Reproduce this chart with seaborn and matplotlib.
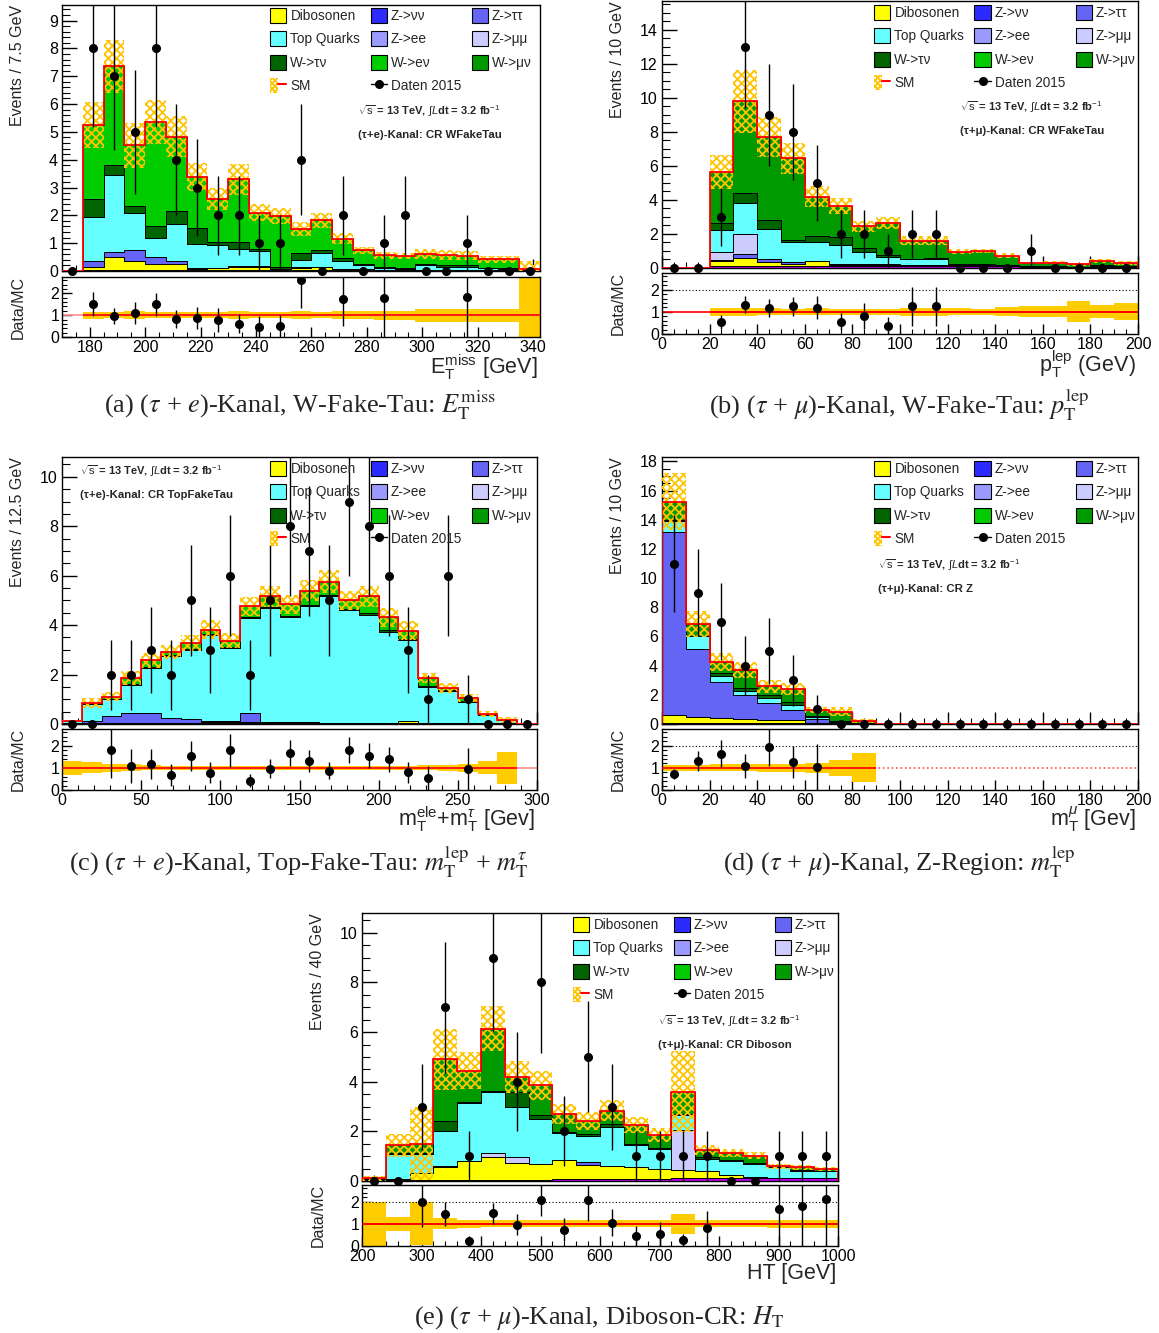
import numpy as np
import pandas as pd
import seaborn as sns
import matplotlib
matplotlib.use("Agg")
import matplotlib.pyplot as plt
from matplotlib.patches import Patch
from matplotlib.lines import Line2D
from matplotlib.legend_handler import HandlerTuple
from matplotlib.ticker import MultipleLocator, AutoMinorLocator

# ======================= DATA =======================
# (a) (tau+e) W-Fake-Tau, E_T^miss, bins of 7.5 GeV starting at 170 GeV
a_lo, a_bw = 170.0, 7.5
a_other = [0, .05, .05, .05, .05, .05, .05, .05, .05, .05, .05, .05, .05, .05, .05, .05, .05, .05, .05, .05, .05, .05, .03]
a_dib = [0, .10, .45, .30, .20, .20, .03, .05, .10, .10, .02, .05, .10, .03, .02, 0, 0, 0, 0, 0, 0, 0, 0]
a_ztt = [0, .20, .20, .40, .25, .10, .02, .02, .02, .02, 0, .05, 0, 0, 0, 0, 0, 0, 0, 0, 0, 0, 0]
a_top = [0, 1.60, 2.75, 1.35, .70, 1.33, .88, .83, .63, .55, 0, .25, .50, .27, .13, .05, .03, .15, .10, .10, .04, .03, 0]
a_wtn = [0, .65, .35, .25, .40, .47, .56, .10, .25, .08, .08, .25, .09, .10, .05, .05, .04, .06, .07, .05, .03, .02, 0]
a_wen = [0, 2.65, 3.55, 2.17, 3.75, 2.68, 1.85, 1.55, 2.24, 1.30, 1.82, .87, 1.08, .71, .49, .41, .43, .36, .36, .35, .30, .32, .03]
a_data = [0, 8, 7, 5, 8, 4, 3, 2, 2, 1, 1, 4, 0, 2, 0, 1, 2, 0, 0, 1, 0, 0, 0]
a_rel = [0, .16, .13, .18, .15, .15, .15, .15, .17, .15, .15, .17, .15, .17, .18, .20, .20, .30, .30, .30, .30, .30, 5.0]

# (b) (tau+mu) W-Fake-Tau, p_T^lep, bins of 10 GeV from 0
b_lo, b_bw = 0.0, 10.0
b_other = [0, 0, .10, .10, .10, .10, .10, .10, .10, .10, .10, .10, .10, .10, .10, .08, .08, .06, .08, .08]
b_dib = [0, 0, .30, .50, .25, .15, .30, .10, .10, .05, .05, .10, 0, 0, 0, 0, 0, 0, 0, 0]
b_ztt = [0, 0, .05, .20, .20, .10, 0, .05, .05, .10, .05, 0, 0, 0, 0, 0, 0, 0, 0, 0]
b_zmm = [0, 0, .50, 1.20, 0, 0, 0, 0, 0, 0, 0, 0, 0, 0, 0, 0, 0, 0, 0, 0]
b_top = [0, 0, 1.30, 1.85, 1.75, 1.15, 1.10, 1.12, .70, .40, .30, .35, .10, .05, .05, 0, .04, 0, .04, .02]
b_wtn = [0, 0, .40, .55, .55, .15, .40, .45, .20, .10, .05, .05, .05, .10, .05, .05, 0, 0, .05, 0]
b_wmn = [0, 0, 3.00, 5.40, 4.85, 4.80, 2.30, 1.83, 1.30, 1.90, 1.05, 1.00, .70, .75, .52, .17, .20, .16, .25, .20]
b_data = [0, 0, 3, 13, 9, 8, 5, 2, 2, 1, 2, 2, 0, 0, 0, 1, 0, 0, 0, 0]
b_rel = [0, 0, .18, .19, .15, .14, .15, .13, .13, .14, .17, .17, .15, .14, .20, .25, .25, .47, .30, .38]

# (c) (tau+e) Top-Fake-Tau, m_T^ele + m_T^tau, bins of 12.5 GeV from 0
c_lo, c_bw = 0.0, 12.5
c_other = [.03, .03, .03, .03, .03, .03, .03, .03, .03, .03, .03, .03, .03, .03, .03, .03, .03, .03, .03, .03, .03, .03, .03, 0]
c_dib = [0, 0, 0, 0, 0, .02, .02, .05, .05, .07, .03, .02, .02, .02, .02, .02, .02, .10, .02, .02, 0, 0, 0, 0]
c_ztt = [0, .10, .29, .40, .43, .21, .15, .05, .04, .36, .04, .05, .02, 0, 0, 0, 0, 0, 0, 0, 0, 0, 0, 0]
c_top = [.09, .68, .70, 1.15, 1.82, 2.50, 2.80, 3.47, 2.95, 3.82, 4.58, 4.22, 4.69, 5.11, 4.55, 4.34, 3.69, 3.27, 1.46, 1.30, .87, .32, .12, 0]
c_wtn = [0, 0, 0, .02, .02, .02, .02, .03, .03, .05, .05, .05, .06, .05, .05, .08, .07, .05, .04, .03, .03, 0, 0, 0]
c_wen = [0, .03, .08, .25, .27, .12, .25, .18, .26, .43, .43, .48, .58, .55, .35, .69, .50, .33, .30, .07, .12, .05, .01, 0]
c_data = [0, 0, 2, 2, 3, 2, 5, 3, 6, 2, 5, 8, 7, 5, 9, 8, 6, 3, 1, 6, 1, 0, 0, 0]
c_rel = [.32, .25, .17, .15, .12, .10, .10, .10, .09, .08, .08, .08, .08, .08, .08, .08, .09, .10, .11, .13, .17, .30, .72, 0]

# (d) (tau+mu) Z-Region, m_T^mu, bins of 10 GeV from 0
d_lo, d_bw = 0.0, 10.0
d_other = [.05, .05, .05, .05, .05, .05, .05, .05, .05, 0, 0, 0, 0, 0, 0, 0, 0, 0, 0, 0]
d_dib = [.57, .45, .35, .30, .25, .20, .05, .02, 0, 0, 0, 0, 0, 0, 0, 0, 0, 0, 0, 0]
d_ztt = [12.54, 4.65, 2.50, 1.64, 1.12, .71, .25, .03, 0, 0, 0, 0, 0, 0, 0, 0, 0, 0, 0, 0]
d_top = [.74, .85, .40, .30, .39, .34, .10, .03, 0, 0, 0, 0, 0, 0, 0, 0, 0, 0, 0, 0]
d_wtn = [.10, .05, .18, .18, .16, .23, .10, .05, 0, 0, 0, 0, 0, 0, 0, 0, 0, 0, 0, 0]
d_wmn = [1.25, .81, .78, 1.21, .62, .85, .41, .67, .15, 0, 0, 0, 0, 0, 0, 0, 0, 0, 0, 0]
d_data = [11, 9, 7, 4, 5, 3, 1, 0, 0, 0, 0, 0, 0, 0, 0, 0, 0, 0, 0, 0]
d_rel = [.13, .13, .15, .15, .17, .17, .23, .35, .66, 0, 0, 0, 0, 0, 0, 0, 0, 0, 0, 0]

# (e) (tau+mu) Diboson-CR, H_T, bins of 40 GeV from 200
e_lo, e_bw = 200.0, 40.0
e_other = [.03, .03, .03, .03, .03, .03, .03, .03, .08, .10, .10, .10, .10, .12, .12, .12, .12, .12, .12, .12]
e_dib = [.05, .05, .28, .52, .78, .95, .71, .66, .77, .55, .50, .45, .40, .33, .28, .13, .02, .02, 0, 0]
e_ztt = [0, 0, 0, 0, 0, 0, 0, 0, 0, .10, .02, 0, 0, 0, 0, 0, .03, 0, 0, 0]
e_zmm = [0, 0, 0, .05, 0, .14, .24, 0, 0, 0, 0, 0, 0, 1.61, 0, 0, 0, 0, 0, 0]
e_top = [.03, 1.01, .78, 1.43, 2.35, 2.48, 2.02, 1.81, 1.07, 1.08, 1.57, .90, .79, .58, .49, .55, .50, .41, .28, .28]
e_wtn = [0, .03, .02, .37, .02, .02, .60, .14, .05, .05, .10, .05, .05, .06, .06, .05, .05, 0, .03, 0]
e_wmn = [0, .33, .40, 2.51, 1.27, 2.52, .59, 1.22, .73, .54, .55, .76, .52, .90, .30, .27, .30, .05, .12, .07]
e_data = [0, 0, 3, 7, 1, 9, 4, 8, 2, 5, 3, 1, 1, 1, 1, 0, 0, 1, 1, 1]
e_rel = [1.0, .32, .97, .25, .17, .15, .15, .15, .15, .15, .15, .15, .15, .45, .15, .15, .15, .17, .17, .17]

# ======================= STYLE =======================
sns.set_style("ticks")
plt.rcParams.update({
    "font.family": ["Liberation Sans", "DejaVu Sans"],
    "mathtext.fontset": "custom",
    "mathtext.rm": "Liberation Sans",
    "mathtext.it": "Liberation Sans:italic",
    "mathtext.bf": "Liberation Sans:bold",
    "mathtext.sf": "Liberation Sans",
    "axes.edgecolor": "black",
    "axes.linewidth": 1.0,
    "xtick.color": "black",
    "ytick.color": "black",
    "hatch.linewidth": 1.3,
    "hatch.color": "#ffc400",
})

HATCH = "#ffc400"
BAND = "#ffcc00"
COLORS = {
    "Sonstige": "#c000f0",
    "Dibosonen": "#ffff00",
    "Z->νν": "#2b2bff",
    "Z->ττ": "#6464f5",
    "Z->ee": "#9a9aff",
    "Z->μμ": "#ccccff",
    "Top Quarks": "#66ffff",
    "W->τν": "#006400",
    "W->eν": "#00cc00",
    "W->μν": "#009900",
}
STACK_ORDER = ["Sonstige", "Dibosonen", "Z->νν", "Z->ττ", "Z->ee", "Z->μμ",
               "Top Quarks", "W->τν", "W->eν", "W->μν"]
LEGEND_ORDER = ["Dibosonen", "Top Quarks", "W->τν", "SM",
                "Z->νν", "Z->ee", "W->eν", "Daten 2015",
                "Z->ττ", "Z->μμ", "W->μν"]
RMAX = 2.75

W, H = 1159, 1333
fig = plt.figure(figsize=(W / 100, H / 100), dpi=100)


def rect(l, t, r, b):
    return [l / W, 1 - b / H, (r - l) / W, (b - t) / H]


def fpt(x, y):
    return x / W, 1 - y / H


PANELS = [
    dict(lo=a_lo, bw=a_bw, data=a_data, rel=a_rel,
         comps={"Sonstige": a_other, "Dibosonen": a_dib, "Z->ττ": a_ztt, "Top Quarks": a_top,
                "W->τν": a_wtn, "W->eν": a_wen},
         main=(62, 5, 540, 271), ratio=(62, 277, 540, 337), ymax=9.56, ystep=1, yminor=5,
         xstep=20, xminor=4, dotted2=False, empty=("#ff9090", "-"),
         ylabel="Events / 7.5 GeV", ylx=18,
         xtitle=r"E$_{\rm T}^{\rm miss}$ [GeV]", xty=367,
         info=(358, 111), chan="(τ+e)-Kanal: CR WFakeTau", leg=(270, 8),
         caption=r"(a) ($\tau$ + $e$)-Kanal, W-Fake-Tau: $E_{\rm T}^{\rm miss}$", cap=(300, 405)),
    dict(lo=b_lo, bw=b_bw, data=b_data, rel=b_rel,
         comps={"Sonstige": b_other, "Dibosonen": b_dib, "Z->ττ": b_ztt, "Z->μμ": b_zmm,
                "Top Quarks": b_top, "W->τν": b_wtn, "W->μν": b_wmn},
         main=(662, 1, 1138, 268), ratio=(662, 273, 1138, 334), ymax=15.7, ystep=2, yminor=4,
         xstep=20, xminor=4, dotted2=True, empty=("red", "-"),
         ylabel="Events / 10 GeV", ylx=618,
         xtitle=r"p$_{\rm T}^{\rm lep}$ (GeV)", xty=364,
         info=(960, 107), chan="(τ+μ)-Kanal: CR WFakeTau", leg=(874, 5),
         caption=r"(b) ($\tau$ + $\mu$)-Kanal, W-Fake-Tau: $p_{\rm T}^{\rm lep}$", cap=(899, 405)),
    dict(lo=c_lo, bw=c_bw, data=c_data, rel=c_rel,
         comps={"Sonstige": c_other, "Dibosonen": c_dib, "Z->ττ": c_ztt, "Top Quarks": c_top,
                "W->τν": c_wtn, "W->eν": c_wen},
         main=(62, 457, 537, 724), ratio=(62, 729, 537, 790), ymax=10.8, ystep=2, yminor=4,
         xstep=50, xminor=5, dotted2=False, empty=("#ff9090", "-"),
         ylabel="Events / 12.5 GeV", ylx=18,
         xtitle=r"m$_{\rm T}^{\rm ele}$+m$_{\rm T}^{\tau}$ [Gev]", xty=819,
         info=(80, 471), chan="(τ+e)-Kanal: CR TopFakeTau", leg=(270, 461),
         caption=r"(c) ($\tau$ + $e$)-Kanal, Top-Fake-Tau: $m_{\rm T}^{\rm lep}$ + $m_{\rm T}^{\tau}$",
         cap=(299, 862)),
    dict(lo=d_lo, bw=d_bw, data=d_data, rel=d_rel,
         comps={"Sonstige": d_other, "Dibosonen": d_dib, "Z->ττ": d_ztt, "Top Quarks": d_top,
                "W->τν": d_wtn, "W->μν": d_wmn},
         main=(662, 457, 1138, 724), ratio=(662, 729, 1138, 790), ymax=18.3, ystep=2, yminor=4,
         xstep=20, xminor=4, dotted2=True, empty=("#ff5050", ":"),
         ylabel="Events / 10 GeV", ylx=618,
         xtitle=r"m$_{\rm T}^{\mu}$ [Gev]", xty=819,
         info=(878, 565), chan="(τ+μ)-Kanal: CR Z", leg=(874, 461),
         caption=r"(d) ($\tau$ + $\mu$)-Kanal, Z-Region: $m_{\rm T}^{\rm lep}$", cap=(899, 862)),
    dict(lo=e_lo, bw=e_bw, data=e_data, rel=e_rel,
         comps={"Sonstige": e_other, "Dibosonen": e_dib, "Z->ττ": e_ztt, "Z->μμ": e_zmm,
                "Top Quarks": e_top, "W->τν": e_wtn, "W->μν": e_wmn},
         main=(362, 913, 838, 1181), ratio=(362, 1185, 838, 1246), ymax=10.8, ystep=2, yminor=4,
         xstep=100, xminor=5, dotted2=True, empty=("red", "-"),
         ylabel="Events / 40 GeV", ylx=318,
         xtitle="HT [GeV]", xty=1273,
         info=(658, 1021), chan="(τ+μ)-Kanal: CR Diboson", leg=(573, 917),
         caption=r"(e) ($\tau$ + $\mu$)-Kanal, Diboson-CR: $H_{\rm T}$", cap=(599, 1318)),
]


def legend_handles():
    hs, ls = [], []
    for name in LEGEND_ORDER:
        if name == "SM":
            h = (Patch(facecolor="none", edgecolor=HATCH, hatch="xxxxxx", linewidth=0),
                 Line2D([0], [0], color="red", lw=1.5))
        elif name == "Daten 2015":
            h = Line2D([0], [0], color="black", lw=1.0, marker="o", ms=5.5)
        else:
            h = Patch(facecolor=COLORS[name], edgecolor="black", linewidth=0.8)
        hs.append(h)
        ls.append(name)
    return hs, ls


def draw_panel(p):
    data = np.asarray(p["data"], float)
    rel = np.asarray(p["rel"], float)
    nb = len(data)
    edges = p["lo"] + p["bw"] * np.arange(nb + 1)
    centers = 0.5 * (edges[:-1] + edges[1:])
    comps = p["comps"]
    total = np.sum([np.asarray(v, float) for v in comps.values()], axis=0)

    ax = fig.add_axes(rect(*p["main"]))
    rx = fig.add_axes(rect(*p["ratio"]))

    long = pd.DataFrame(
        [(c, v, name) for name, vals in comps.items() for c, v in zip(centers, vals)],
        columns=["x", "w", "proc"])
    order = [n for n in STACK_ORDER[::-1] if n in comps]
    sns.histplot(data=long, x="x", weights="w", hue="proc", hue_order=order,
                 palette=COLORS, multiple="stack", bins=edges.tolist(), element="step",
                 fill=True, alpha=1, edgecolor="black", linewidth=0.7,
                 legend=False, ax=ax)

    # SM uncertainty (hatched) and SM total (red)
    ax.stairs(total * (1 + rel), edges, baseline=total * (1 - rel), fill=True,
              facecolor="none", edgecolor=HATCH, hatch="xxxx", linewidth=0, zorder=3)
    ax.stairs(total, edges, baseline=0, color="red", linewidth=1.3, zorder=4)

    # data
    ax.errorbar(centers, data, yerr=np.sqrt(data), fmt="none", ecolor="black",
                elinewidth=1.0, zorder=5)
    ax.plot(centers, data, "o", color="black", ms=5.5, zorder=6, clip_on=False)

    ax.set_xlim(edges[0], edges[-1])
    ax.set_ylim(0, p["ymax"])
    ax.set_xlabel("")
    ax.set_ylabel("")
    ax.yaxis.set_major_locator(MultipleLocator(p["ystep"]))
    ax.yaxis.set_minor_locator(AutoMinorLocator(p["yminor"]))
    ax.xaxis.set_major_locator(MultipleLocator(p["xstep"]))
    ax.xaxis.set_minor_locator(AutoMinorLocator(p["xminor"]))
    ax.tick_params(axis="x", labelbottom=False)
    ax.tick_params(which="both", direction="in", top=False, right=False, labelsize=11.5, pad=3)
    ax.tick_params(axis="y", which="major", length=11, width=1)
    ax.tick_params(axis="y", which="minor", length=5.5, width=0.8)
    ax.tick_params(axis="x", which="major", length=9, width=1)
    ax.tick_params(axis="x", which="minor", length=4.5, width=0.8)

    hs, ls = legend_handles()
    lx, ly = fpt(*p["leg"])
    ax.legend(hs, ls, ncol=3, loc="upper left", bbox_to_anchor=(lx, ly),
              bbox_transform=fig.transFigure, frameon=False, fontsize=9.8,
              handlelength=1.2, handleheight=1.3, handletextpad=0.3,
              columnspacing=0.75, labelspacing=0.62, borderpad=0, borderaxespad=0,
              handler_map={tuple: HandlerTuple(ndivide=None, pad=0)})

    # ratio panel
    has = total > 0
    rx.stairs(np.where(has, 1 + rel, 1.0), edges, baseline=np.where(has, 1 - rel, 1.0),
              fill=True, color=BAND, linewidth=0, zorder=1)
    ecol, els = p["empty"]
    rx.axhline(1, color=ecol, lw=1.2, ls=els, zorder=2)
    rx.hlines(np.ones(has.sum()), edges[:-1][has], edges[1:][has], colors="red", lw=1.2, zorder=3)
    if p["dotted2"]:
        rx.axhline(2, color="black", lw=0.8, ls=(0, (1, 2)), zorder=2)
    ratio = np.divide(data, total, out=np.zeros_like(data), where=has)
    rerr = np.divide(np.sqrt(data), total, out=np.zeros_like(data), where=has)
    vis = has & (data > 0) & (ratio <= RMAX)
    rx.errorbar(centers[vis], ratio[vis], yerr=rerr[vis], fmt="o", color="black",
                ms=5.5, elinewidth=1.0, zorder=5)
    rx.set_xlim(edges[0], edges[-1])
    rx.set_ylim(0, RMAX)
    rx.yaxis.set_major_locator(MultipleLocator(1))
    rx.yaxis.set_minor_locator(AutoMinorLocator(5))
    rx.xaxis.set_major_locator(MultipleLocator(p["xstep"]))
    rx.xaxis.set_minor_locator(AutoMinorLocator(p["xminor"]))
    rx.tick_params(which="both", direction="in", top=False, right=False, labelsize=11.5, pad=2)
    rx.tick_params(axis="y", which="major", length=7, width=1)
    rx.tick_params(axis="y", which="minor", length=3.5, width=0.8)
    rx.tick_params(axis="x", which="major", length=7, width=1)
    rx.tick_params(axis="x", which="minor", length=3.5, width=0.8)

    # texts
    x0, y0 = fpt(p["ylx"], p["main"][1])
    fig.text(x0, y0, p["ylabel"], rotation=90, ha="center", va="top", fontsize=11.5)
    x1, y1 = fpt(p["ylx"], 0.5 * (p["ratio"][1] + p["ratio"][3]))
    fig.text(x1, y1, "Data/MC", rotation=90, ha="center", va="center", fontsize=11.5)
    x2, y2 = fpt(p["main"][2] - 2, p["xty"])
    fig.text(x2, y2, p["xtitle"], ha="right", va="center", fontsize=15.5)
    x3, y3 = fpt(*p["info"])
    fig.text(x3, y3, r"$\sqrt{\rm s}$ = 13 TeV, $\int L$dt = 3.2 fb$^{-1}$",
             ha="left", va="center", fontsize=8.0, fontweight="bold")
    x4, y4 = fpt(p["info"][0], p["info"][1] + 24)
    fig.text(x4, y4, p["chan"], ha="left", va="center", fontsize=8.2, fontweight="bold")
    x5, y5 = fpt(*p["cap"])
    fig.text(x5, y5, p["caption"], ha="center", va="center", fontsize=19,
             family=["Liberation Serif", "DejaVu Serif"], math_fontfamily="stix")


for panel in PANELS:
    draw_panel(panel)

fig.savefig("out.png", dpi=100)
